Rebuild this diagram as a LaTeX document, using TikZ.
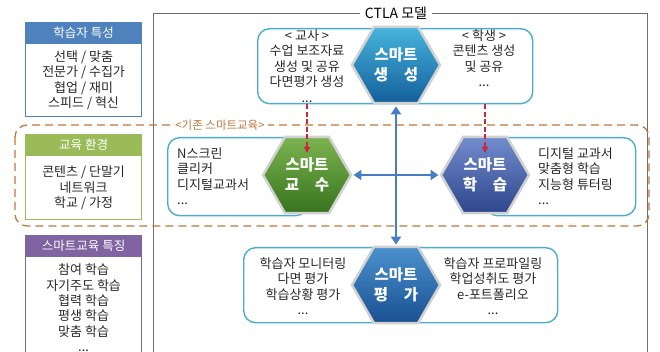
\documentclass[tikz,border=0pt]{standalone}
\usepackage{fontspec}
\setmainfont{Noto Sans CJK KR}
\usetikzlibrary{shapes.geometric,arrows.meta}
\definecolor{hblue}{RGB}{79,129,189}
\definecolor{hgreen}{RGB}{155,187,89}
\definecolor{hpurple}{RGB}{128,100,162}
\definecolor{aqua}{RGB}{75,172,205}
\definecolor{framegray}{RGB}{110,110,110}
\definecolor{dashbrown}{RGB}{190,120,60}
\definecolor{arrowblue}{RGB}{70,125,195}
\definecolor{reddash}{RGB}{200,40,60}
\definecolor{txtcol}{RGB}{40,40,40}
\begin{document}
\begin{tikzpicture}[x=1pt,y=-1pt,
  txt/.style={font=\fontsize{13}{15.5}\selectfont, align=center, inner sep=0pt, text=txtcol},
  hdr/.style={fill=#1, draw=#1, line width=1.2pt, minimum width=116pt, minimum height=20pt, anchor=north west, inner sep=0pt, text=white, font=\fontsize{12.5}{14}\selectfont},
  bodybox/.style={draw=#1, line width=1.2pt, minimum width=116pt, anchor=north, inner sep=0pt, align=center, text=txtcol, font=\fontsize{13}{15.3}\selectfont},
  rbox/.style={draw=aqua, line width=1.4pt, rounded corners=12pt, fill=white, anchor=north west, inner sep=0pt},
  hexa/.style={regular polygon, regular polygon sides=6, minimum size=88pt, inner sep=0pt, draw=black!18, line width=2.5pt, text=white, align=center, font=\bfseries\fontsize{15.5}{20}\selectfont},
  bluearrow/.style={draw=arrowblue, line width=2.6pt, {Triangle[length=8pt,width=10pt]}-{Triangle[length=8pt,width=10pt]}},
  redarrow/.style={draw=reddash, line width=1.3pt, dash pattern=on 5pt off 2.5pt, -{Triangle[length=6pt,width=6pt]}}
]
\useasboundingbox (0,0) rectangle (660,352);

% CTLA frame
\draw[framegray, line width=0.9pt] (153,360) -- (153,13) -- (647,13) -- (647,360);
\node[fill=white, inner xsep=5pt, inner ysep=1pt, font=\fontsize{14}{16}\selectfont] (title) at (396,13) {CTLA 모델};

% left boxes
\node[hdr=hblue] (h1) at (25,22) {학습자 특성};
\node[bodybox=hblue, minimum height=73pt] (b1) at (h1.south) {선택 / 맞춤\\전문가 / 수집가\\협업 / 재미\\스피드 / 혁신};
\node[hdr=hgreen] (h2) at (25,134) {교육 환경};
\node[bodybox=hgreen, minimum height=64pt] (b2) at (h2.south) {콘텐츠 / 단말기\\네트워크\\학교 / 가정};
\node[hdr=hpurple] (h3) at (25,235) {스마트교육 특징};
\node[bodybox=hpurple, minimum height=102pt] (b3) at (h3.south) {참여 학습\\자기주도 학습\\협력 학습\\평생 학습\\맞춤 학습\\...};
\draw[hpurple, line width=1.2pt] (b3.south west) -- ++(0,10) (b3.south east) -- ++(0,10);

% dashed existing smart education box
\draw[dashbrown, line width=1.3pt, rounded corners=12pt, dash pattern=on 8pt off 5pt] (15,125) rectangle (649,226);
\node[fill=white, inner xsep=3pt, inner ysep=1pt, text=dashbrown, font=\fontsize{11.5}{12}\selectfont] (exist) at (220,125) {<기존 스마트교육>};

% rounded boxes
\node[rbox, minimum width=275pt, minimum height=75pt] (tbox) at (257,28) {};
\node[rbox, minimum width=140pt, minimum height=78pt] (lbox) at (167,137) {};
\node[rbox, minimum width=150pt, minimum height=78pt] (rbox) at (485,137) {};
\node[rbox, minimum width=314pt, minimum height=75pt] (bbox) at (243,247) {};

% box texts
\node[txt] (ttl) at (307,66) {< 교사 >\\수업 보조자료\\생성 및 공유\\다면평가 생성\\...};
\node[txt] (ttr) at (484,58) {< 학생 >\\콘텐츠 생성\\및 공유\\...};
\node[txt, align=left, anchor=west] (ltxt) at (177,176) {N스크린\\클리커\\디지털교과서\\...};
\node[txt, align=left, anchor=west] (rtxt) at (538,176) {디지털 교과서\\맞춤형 학습\\지능형 튜터링\\...};
\node[txt] (btl) at (303,286) {학습자 모니터링\\다면 평가\\학습상황 평가\\...};
\node[txt] (btr) at (493,286) {학습자 프로파일링\\학업성취도 평가\\e-포트폴리오\\...};

% hexagons
\node[hexa, top color={rgb,255:red,70;green,180;blue,220}, bottom color={rgb,255:red,20;green,95;blue,155}] (saeng) at (396,65) {스마트\\생\hspace{1em}성};
\node[hexa, top color={rgb,255:red,125;green,180;blue,80}, bottom color={rgb,255:red,55;green,115;blue,30}] (gyosu) at (307,175) {스마트\\교\hspace{1em}수};
\node[hexa, top color={rgb,255:red,115;green,140;blue,205}, bottom color={rgb,255:red,45;green,70;blue,140}] (hakseup) at (485,175) {스마트\\학\hspace{1em}습};
\node[hexa, top color={rgb,255:red,75;green,145;blue,205}, bottom color={rgb,255:red,25;green,80;blue,145}] (pyeong) at (396,285) {스마트\\평\hspace{1em}가};

% arrows
\draw[bluearrow, shorten <=1pt, shorten >=1pt] (gyosu.east) -- (hakseup.west);
\draw[bluearrow, shorten <=2pt, shorten >=1pt] (saeng.south) -- (pyeong.north);
\draw[redarrow, shorten >=22pt] (gyosu |- tbox.south) -- (gyosu.center);
\draw[redarrow, shorten >=22pt] (hakseup |- tbox.south) -- (hakseup.center);
\end{tikzpicture}
\end{document}
